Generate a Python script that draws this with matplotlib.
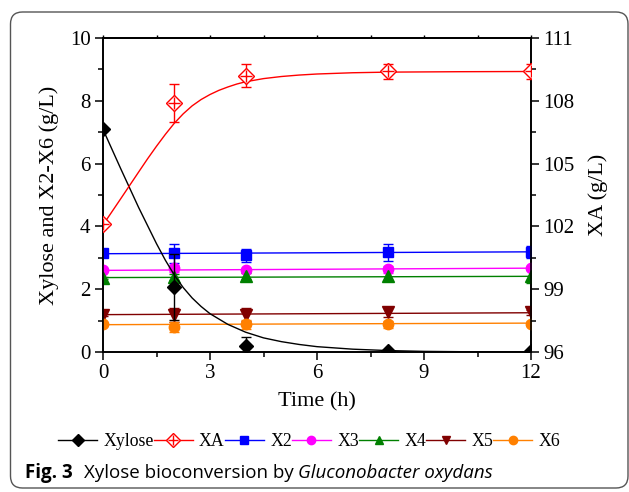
import numpy as np
import matplotlib
matplotlib.use("Agg")
import matplotlib.pyplot as plt
from matplotlib.lines import Line2D
from matplotlib.patches import FancyBboxPatch
from matplotlib.transforms import IdentityTransform
from matplotlib.ticker import MultipleLocator

plt.rcParams["font.family"] = ["Liberation Serif", "DejaVu Serif"]

# sampling times (h)
time = [0, 2, 4, 8, 12]

# measured concentrations (g/L) and standard deviations
xylose = [7.09, 2.07, 0.18, 0.02, 0.02]
xylose_err = [0.05, 1.05, 0.30, 0.02, 0.02]
xa = [102.1, 107.9, 109.2, 109.4, 109.4]
xa_err = [0.10, 0.90, 0.55, 0.38, 0.38]
x2 = [3.14, 3.14, 3.08, 3.17, 3.19]
x2_err = [0.05, 0.29, 0.20, 0.28, 0.20]
x3 = [2.60, 2.66, 2.60, 2.63, 2.69]
x3_err = [0.03, 0.12, 0.05, 0.12, 0.05]
x4 = [2.36, 2.40, 2.42, 2.43, 2.41]
x4_err = [0.03, 0.10, 0.10, 0.18, 0.20]
x5 = [1.19, 1.17, 1.19, 1.27, 1.27]
x5_err = [0.03, 0.22, 0.20, 0.16, 0.08]
x6 = [0.88, 0.80, 0.88, 0.88, 0.90]
x6_err = [0.05, 0.15, 0.15, 0.12, 0.08]

# fitted kinetic curves
xylose_fit_t = [0, 0.5, 1.0, 1.5, 1.75, 2.0, 2.25, 2.5, 2.75, 3.0, 3.5, 4.0, 4.5,
                5.0, 5.5, 6.0, 7.0, 8.0, 9.0, 10.0, 12.0]
xylose_fit = [7.09, 5.83, 4.60, 3.45, 2.92, 2.45, 2.05, 1.72, 1.45, 1.22, 0.88, 0.63,
              0.45, 0.33, 0.24, 0.17, 0.09, 0.045, 0.02, 0.01, 0.0]
xa_fit_t = [0, 0.5, 1.0, 1.25, 1.5, 1.75, 2.0, 2.25, 2.5, 2.75, 3.0, 3.25, 3.5, 3.75,
            4.0, 4.5, 5.0, 5.5, 6.0, 7.0, 8.0, 10.0, 12.0]
xa_fit = [102.07, 103.33, 104.6, 105.23, 105.83, 106.40, 106.93, 107.38, 107.76, 108.06,
          108.30, 108.50, 108.66, 108.80, 108.91, 109.06, 109.16, 109.23, 109.28,
          109.34, 109.37, 109.39, 109.40]

# linear trends for the oligomers (value at 0 h and at 12 h)
line_t = [0, 12]
x2_line = [3.13, 3.19]
x3_line = [2.60, 2.67]
x4_line = [2.37, 2.41]
x5_line = [1.19, 1.25]
x6_line = [0.87, 0.92]

W, H = 629, 492
fig = plt.figure(figsize=(W / 100, H / 100), dpi=100)
ax = fig.add_axes([103 / W, 1 - 352 / H, 428 / W, 314 / H])
ax2 = ax.twinx()

series = [
    (x2, x2_err, x2_line, "#0000FF", "s", 7.0),
    (x3, x3_err, x3_line, "#FF00FF", "o", 7.5),
    (x4, x4_err, x4_line, "#008000", "^", 8.0),
    (x5, x5_err, x5_line, "#800000", "v", 8.0),
    (x6, x6_err, x6_line, "#FF8000", "o", 7.5),
]
for vals, err, trend, col, mk, ms in series:
    ax.plot(line_t, trend, color=col, lw=1.0, zorder=2)
    ax.errorbar(time, vals, yerr=err, fmt=mk, ms=ms, color=col, ecolor=col,
                elinewidth=1.0, capsize=3.5, capthick=1.0, zorder=3)

ax.plot(xylose_fit_t, xylose_fit, color="black", lw=1.0, zorder=4)
ax.errorbar(time, xylose, yerr=xylose_err, fmt="D", ms=7, color="black",
            ecolor="black", elinewidth=1.0, capsize=3.5, capthick=1.0, zorder=5)

ax2.plot(xa_fit_t, xa_fit, color="red", lw=1.0, zorder=2)
ax2.errorbar(time, xa, yerr=xa_err, fmt="D", ms=8.5, mfc="white", mec="red",
             mew=1.0, color="red", ecolor="red", elinewidth=1.0,
             capsize=3.5, capthick=1.0, zorder=3)
ax2.plot(time, xa, "+", ms=8.5, mew=1.0, color="red", zorder=4)

ax.set_xlim(0, 12)
ax.set_ylim(0, 10)
ax2.set_ylim(96, 111)
ax.xaxis.set_major_locator(MultipleLocator(3))
ax.xaxis.set_minor_locator(MultipleLocator(1.5))
ax.yaxis.set_major_locator(MultipleLocator(2))
ax.yaxis.set_minor_locator(MultipleLocator(1))
ax2.yaxis.set_major_locator(MultipleLocator(3))
ax2.yaxis.set_minor_locator(MultipleLocator(1.5))

for a in (ax, ax2):
    for sp in a.spines.values():
        sp.set_linewidth(1.2)
    a.tick_params(which="major", direction="out", length=6, width=1.1,
                  labelsize=15, pad=3)
    a.tick_params(which="minor", direction="out", length=3.5, width=1.1)

# small ticks along the top edge
top = ax.secondary_xaxis("top")
top.xaxis.set_major_locator(MultipleLocator(1.5))
top.tick_params(direction="out", length=2, width=1.0, labeltop=False)
top.spines["top"].set_linewidth(1.2)

ax.set_xlabel("Time (h)", fontsize=16, labelpad=6)
ax.set_ylabel("Xylose and X2-X6 (g/L)", fontsize=16, labelpad=8)
ax2.set_ylabel("XA (g/L)", fontsize=16, labelpad=10)

# legend row under the axes
hms = 6
handles = [
    Line2D([], [], color="black", marker="D", ms=hms, lw=1.0),
    (Line2D([], [], color="red", marker="D", ms=hms + 1, mfc="white", lw=1.0),
     Line2D([], [], color="red", marker="+", ms=hms + 1, lw=0)),
    Line2D([], [], color="#0000FF", marker="s", ms=hms, lw=1.0),
    Line2D([], [], color="#FF00FF", marker="o", ms=hms, lw=1.0),
    Line2D([], [], color="#008000", marker="^", ms=hms, lw=1.0),
    Line2D([], [], color="#800000", marker="v", ms=hms, lw=1.0),
    Line2D([], [], color="#FF8000", marker="o", ms=hms, lw=1.0),
]
labels = ["Xylose", "XA", "X2", "X3", "X4", "X5", "X6"]
fig.legend(handles, labels, loc="center left", bbox_to_anchor=(58 / W, 1 - 442 / H),
           ncol=7, frameon=False, fontsize=12.8, handlelength=2.2,
           handletextpad=0.35, columnspacing=0.0, borderpad=0, borderaxespad=0)

# figure caption
renderer = fig.canvas.get_renderer()
cap_fs = 13.5
cap_y = 1 - 478 / H
sans = ["Open Sans", "DejaVu Sans"]
t1 = fig.text(25 / W, cap_y, "Fig. 3", family=sans, fontweight="bold",
              fontsize=cap_fs, va="baseline")
x = t1.get_window_extent(renderer).x1 + 11
t2 = fig.text(x / W, cap_y, "Xylose bioconversion by", family=sans,
              fontsize=cap_fs, va="baseline")
x = t2.get_window_extent(renderer).x1 + 0.26 * cap_fs * 100 / 72
fig.text(x / W, cap_y, "Gluconobacter oxydans", family=sans, style="italic",
         fontsize=cap_fs, va="baseline")

# rounded frame around figure and caption
frame = FancyBboxPatch((10.5, 4), 617.5, 476, boxstyle="round,pad=0,rounding_size=12",
                       transform=IdentityTransform(), fill=False,
                       ec="#555555", lw=1.0)
fig.add_artist(frame)

fig.savefig("out.png", dpi=100)
